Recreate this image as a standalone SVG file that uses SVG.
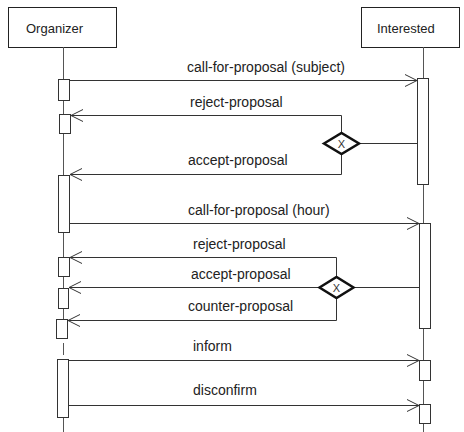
<svg xmlns="http://www.w3.org/2000/svg" width="464" height="432" viewBox="0 0 464 432">
<style>
.box{fill:#fff;stroke:#222;stroke-width:1}
.life{stroke:#555;stroke-width:1;fill:none}
.act{fill:#fff;stroke:#333;stroke-width:1}
.msg{stroke:#333;stroke-width:1;fill:none}
.hdr{font-family:"Liberation Sans",Arial,sans-serif;font-size:13px;fill:#222}
.lbl{font-family:"Liberation Sans",Arial,sans-serif;font-size:14px;fill:#222}
.dia{fill:#fff;stroke:#111;stroke-width:2.5}
.x{font-family:"Liberation Sans",Arial,sans-serif;font-size:11px;fill:#333;text-anchor:middle}
</style>
<defs>
<marker id="open" viewBox="-14 -8 16 16" markerWidth="16" markerHeight="16" refX="0" refY="0" orient="auto" markerUnits="userSpaceOnUse">
<path d="M-12,-6 L0,0 L-12,6" fill="none" stroke="#333" stroke-width="1"/>
</marker>
</defs>
<g id="organizer">
<rect class="box" x="8.5" y="7.5" width="108" height="40"/>
<text class="hdr" x="26" y="33">Organizer</text>
<path class="life" d="M63.5,47 V338 M63.5,343 V355 M63.5,417 V432"/>
<rect class="act" x="58.5" y="79.5" width="11" height="21"/>
<rect class="act" x="59.5" y="114.5" width="11" height="19"/>
<rect class="act" x="58.5" y="175.5" width="11" height="57"/>
<rect class="act" x="58.5" y="257.5" width="11" height="19"/>
<rect class="act" x="58.5" y="288.5" width="10" height="20"/>
<rect class="act" x="56.5" y="319.5" width="11" height="19"/>
<rect class="act" x="57.5" y="359.5" width="11" height="58"/>
</g>
<g id="interested">
<rect class="box" x="361.5" y="7.5" width="98" height="40"/>
<text class="hdr" x="377" y="33">Interested</text>
<path class="life" d="M423.5,47 V432"/>
<rect class="act" x="417.5" y="78.5" width="11" height="106"/>
<rect class="act" x="419.5" y="223.5" width="11" height="105"/>
<rect class="act" x="419.5" y="360.5" width="11" height="20"/>
<rect class="act" x="419.5" y="404.5" width="11" height="19"/>
</g>
<g id="connectors">
<path class="msg" d="M70,80.5 H417" marker-end="url(#open)"/>
<path class="msg" d="M341.5,133 V115.5 H71" marker-end="url(#open)"/>
<path class="msg" d="M359,143.5 H417"/>
<path class="msg" d="M341.5,154 V174.5 H70" marker-end="url(#open)"/>
<path class="msg" d="M70,223.5 H419" marker-end="url(#open)"/>
<path class="msg" d="M336.5,277 V257.5 H70" marker-end="url(#open)"/>
<path class="msg" d="M419,287.5 H353.5"/>
<path class="msg" d="M319.5,287.5 H69" marker-end="url(#open)"/>
<path class="msg" d="M336.5,298 V320.5 H68" marker-end="url(#open)"/>
<path class="msg" d="M69,360.5 H419" marker-end="url(#open)"/>
<path class="msg" d="M69,405.5 H419" marker-end="url(#open)"/>
</g>
<g id="labels">
<text class="lbl" x="187" y="72">call-for-proposal (subject)</text>
<text class="lbl" x="190" y="107">reject-proposal</text>
<text class="lbl" x="188" y="165">accept-proposal</text>
<text class="lbl" x="188" y="215">call-for-proposal (hour)</text>
<text class="lbl" x="193" y="249">reject-proposal</text>
<text class="lbl" x="191" y="279">accept-proposal</text>
<text class="lbl" x="188" y="311">counter-proposal</text>
<text class="lbl" x="193" y="351">inform</text>
<text class="lbl" x="193" y="395">disconfirm</text>
</g>
<g id="gateway1">
<path class="dia" d="M324,143.5 L341.5,133 L359,143.5 L341.5,154 Z"/>
<text class="x" x="341.5" y="147.5">X</text>
</g>
<g id="gateway2">
<path class="dia" d="M319.5,287.5 L336.5,277 L353.5,287.5 L336.5,298 Z"/>
<text class="x" x="336.5" y="291.5">X</text>
</g>
</svg>
